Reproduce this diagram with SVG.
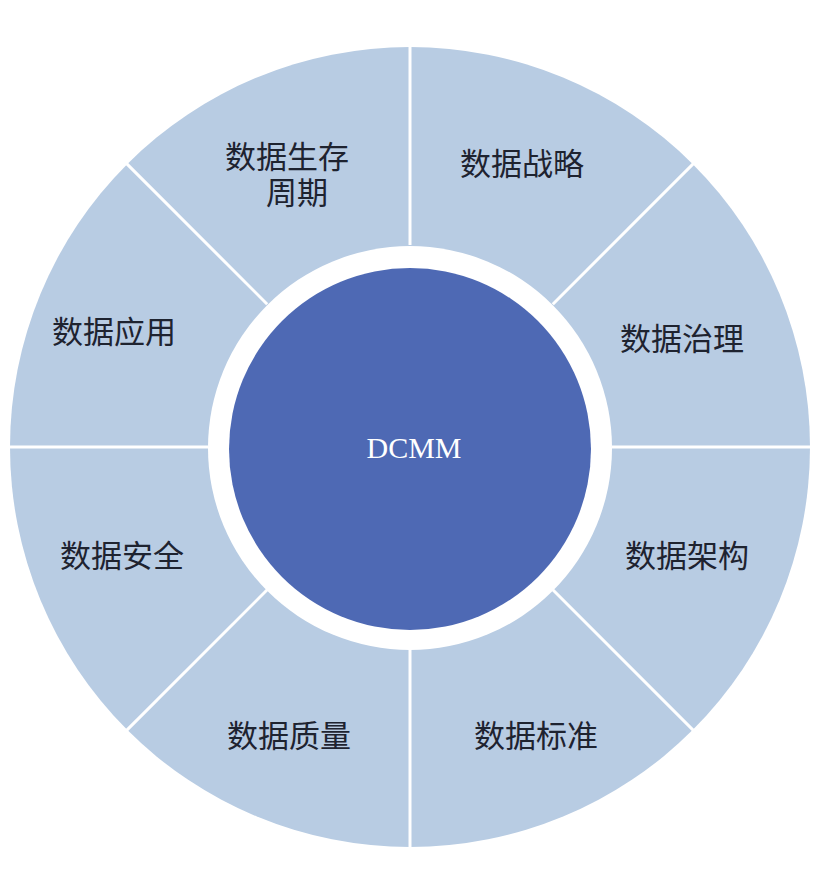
<svg xmlns="http://www.w3.org/2000/svg" width="823" height="871" viewBox="0 0 823 871">
  <style>
    .seg { fill: #B8CCE3; }
    .sep { stroke: #FFFFFF; stroke-width: 3; }
    .lbl { font-family: "Noto Sans CJK SC", "Noto Sans", sans-serif; font-size: 31px; fill: #1E2330; text-anchor: middle; }
    .core { font-family: "Liberation Serif", serif; font-size: 30px; fill: #FFFFFF; text-anchor: middle; }
  </style>
  <rect width="823" height="871" fill="#FFFFFF"/>
  <g id="ring">
    <circle class="seg" cx="410" cy="447" r="400"/>
  </g>
  <g id="connectors">
    <line class="sep" x1="410" y1="245" x2="410" y2="45"/>
    <line class="sep" x1="410" y1="649" x2="410" y2="849"/>
    <line class="sep" x1="208" y1="447" x2="8" y2="447"/>
    <line class="sep" x1="612" y1="447" x2="812" y2="447"/>
    <line class="sep" x1="552.8" y1="304.2" x2="693.6" y2="163.4"/>
    <line class="sep" x1="267.2" y1="304.2" x2="126.4" y2="163.4"/>
    <line class="sep" x1="552.8" y1="589.8" x2="693.6" y2="730.6"/>
    <line class="sep" x1="267.2" y1="589.8" x2="126.4" y2="730.6"/>
  </g>
  <g id="gap">
    <circle cx="410" cy="448" r="202" fill="#FFFFFF"/>
  </g>
  <g id="node-dcmm">
    <circle cx="410" cy="449" r="181" fill="#4E69B4"/>
    <text class="core" x="414" y="458">DCMM</text>
  </g>
  <g id="node-lifecycle">
    <text class="lbl"><tspan x="287" y="168">数据生存</tspan><tspan x="297" y="204">周期</tspan></text>
  </g>
  <g id="node-strategy">
    <text class="lbl" x="522" y="175">数据战略</text>
  </g>
  <g id="node-governance">
    <text class="lbl" x="682" y="350">数据治理</text>
  </g>
  <g id="node-architecture">
    <text class="lbl" x="687" y="567">数据架构</text>
  </g>
  <g id="node-standard">
    <text class="lbl" x="536" y="747">数据标准</text>
  </g>
  <g id="node-quality">
    <text class="lbl" x="289" y="747">数据质量</text>
  </g>
  <g id="node-security">
    <text class="lbl" x="122" y="567">数据安全</text>
  </g>
  <g id="node-application">
    <text class="lbl" x="114" y="343">数据应用</text>
  </g>
</svg>
